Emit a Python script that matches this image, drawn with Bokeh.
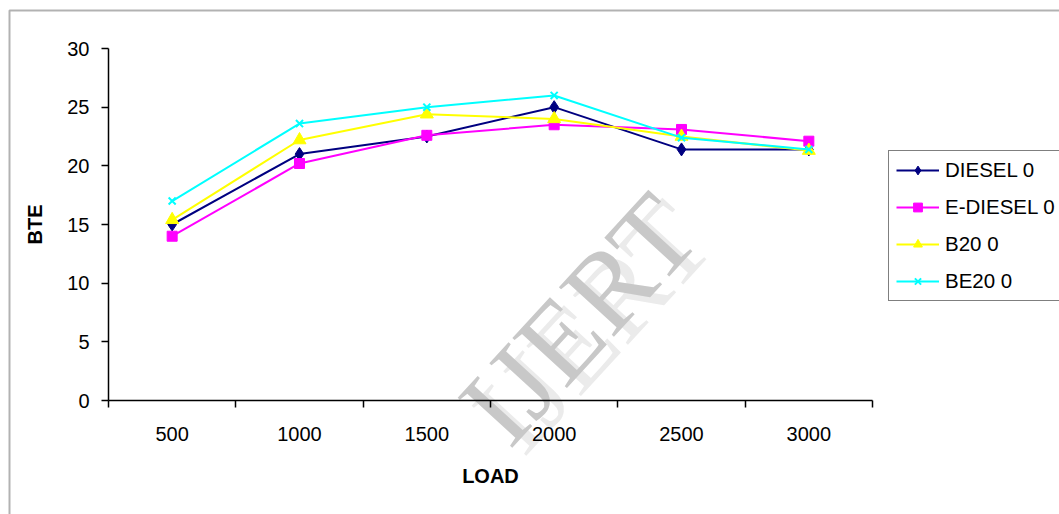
from bokeh.plotting import figure
from bokeh.models import (Range1d, FixedTicker, Legend, LegendItem, Label,
                          BoxAnnotation)
from bokeh.embed import file_html
from bokeh.resources import INLINE

# Brake thermal efficiency against load for the four fuels
loads = ["500", "1000", "1500", "2000", "2500", "3000"]
diesel = [15.0, 21.0, 22.5, 25.0, 21.4, 21.4]
e_diesel = [14.0, 20.2, 22.6, 23.5, 23.1, 22.1]
b20 = [15.4, 22.2, 24.4, 24.0, 22.5, 21.3]
be20 = [17.0, 23.6, 25.0, 26.0, 22.4, 21.4]

series_names = ["DIESEL 0", "E-DIESEL 0", "B20 0", "BE20 0"]
y_ticks = [0, 5, 10, 15, 20, 25, 30]
y_min, y_max = 0, 30

FONT = "Liberation Sans"
W, H = 1059, 514

# plot-area placement on the canvas (pixels)
AX_LEFT, AX_RIGHT, AX_TOP, AX_BOTTOM = 108, 872, 48, 400

# category slots: each load sits in the middle of its own unit-wide slot
n = len(loads)
centers = [i + 0.5 for i in range(n)]
bounds = [float(i) for i in range(n + 1)]

# the frame fills the whole canvas; the axes are pinned at zero so that the
# legend, border and watermark can sit anywhere on the chart area
px_x = (AX_RIGHT - AX_LEFT) / n
px_y = (AX_BOTTOM - AX_TOP) / (y_max - y_min)
x_range = Range1d(-AX_LEFT / px_x, n + (W - AX_RIGHT) / px_x)
y_range = Range1d(y_min - (H - AX_BOTTOM) / px_y, y_max + AX_TOP / px_y)

p = figure(width=W, height=H, output_backend="svg", toolbar_location=None,
           x_range=x_range, y_range=y_range,
           min_border=0, min_border_left=0, min_border_right=0,
           min_border_top=0, min_border_bottom=0)
p.outline_line_color = None
p.xgrid.visible = False
p.ygrid.visible = False
p.background_fill_color = "white"
p.border_fill_color = "white"

# x axis: labels at slot centres, tick marks on slot boundaries
xa = p.xaxis[0]
xa.fixed_location = y_min
xa.bounds = (0, n)
xa.ticker = FixedTicker(ticks=centers, minor_ticks=bounds)
xa.major_label_overrides = {c: lab for c, lab in zip(centers, loads)}
xa.major_tick_out = 0
xa.major_tick_in = 0
xa.minor_tick_out = 7
xa.minor_tick_in = 0
xa.minor_tick_line_color = "black"
xa.minor_tick_line_width = 1.5
xa.axis_line_color = "black"
xa.axis_line_width = 1.5
xa.major_label_text_font = FONT
xa.major_label_text_font_size = "20px"
xa.major_label_text_color = "black"
xa.major_label_standoff = 19
xa.axis_label = "LOAD"
xa.axis_label_text_font = FONT
xa.axis_label_text_font_style = "bold"
xa.axis_label_text_font_size = "20px"
xa.axis_label_text_color = "black"
xa.axis_label_standoff = 21

ya = p.yaxis[0]
ya.fixed_location = 0
ya.bounds = (y_min, y_max)
ya.ticker = FixedTicker(ticks=y_ticks, minor_ticks=[])
ya.major_tick_out = 7
ya.major_tick_in = 0
ya.major_tick_line_color = "black"
ya.major_tick_line_width = 1.5
ya.axis_line_color = "black"
ya.axis_line_width = 1.5
ya.major_label_text_font = FONT
ya.major_label_text_font_size = "20px"
ya.major_label_text_color = "black"
ya.major_label_standoff = 12
ya.axis_label = "BTE"
ya.axis_label_text_font = FONT
ya.axis_label_text_font_style = "bold"
ya.axis_label_text_font_size = "20px"
ya.axis_label_text_color = "black"
ya.axis_label_standoff = 18

# journal watermark behind the data (a pale echo and the main letters)
wm_x, wm_y = 578, H - 318
for dx, dy, col in [(14, -8, "#ebebeb"), (0, 0, "#c8c8c8")]:
    p.add_layout(Label(x=wm_x + dx, y=wm_y + dy, x_units="screen", y_units="screen",
                       text="IJERT", angle=47.5, angle_units="deg",
                       text_font="Liberation Serif", text_font_size="113px",
                       text_color=col, text_align="center",
                       text_baseline="middle", level="underlay"))

styles = [
    (diesel, "#000080", "diamond", 13),
    (e_diesel, "#FF00FF", "square", 10),
    (b20, "#FFFF00", "triangle", 13),
    (be20, "#00FFFF", "x", 10),
]

items = []
for name, (vals, color, marker, size) in zip(series_names, styles):
    ln = p.line(centers, vals, line_color=color, line_width=2)
    if marker == "x":
        mk = p.scatter(centers, vals, marker=marker, size=size,
                       line_color=color, line_width=2)
    else:
        mk = p.scatter(centers, vals, marker=marker, size=size,
                       fill_color=color, line_color=color)
    items.append(LegendItem(label=name, renderers=[ln, mk]))

legend = Legend(items=items, location=(888, H - 301), orientation="vertical",
                label_text_font=FONT, label_text_font_size="20.5px",
                label_text_color="black", glyph_width=43, glyph_height=22,
                label_height=22, label_width=125, label_standoff=6,
                spacing=13, padding=7, margin=0,
                border_line_color="black", border_line_width=1.5,
                background_fill_color="white", background_fill_alpha=1)
p.add_layout(legend, "center")

# outer chart-area border, running off the right and bottom edges
p.add_layout(BoxAnnotation(left=9, right=W + 40, top=H - 10, bottom=-100,
                           left_units="screen", right_units="screen",
                           top_units="screen", bottom_units="screen",
                           fill_color=None, line_color="black", line_width=2,
                           level="overlay"))

open("out.html", "w").write(file_html(p, INLINE))
